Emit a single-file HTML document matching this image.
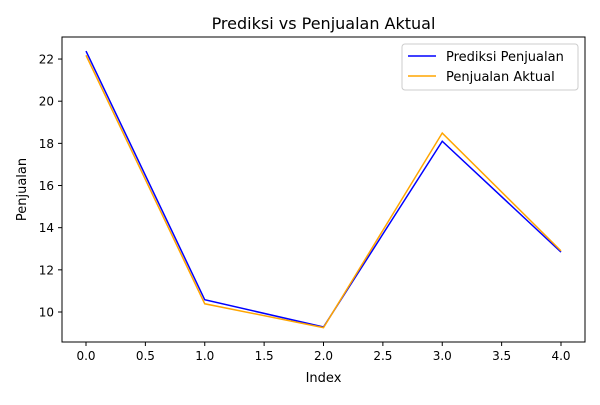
<!DOCTYPE html>
<html><head><meta charset="utf-8"><style>
body{margin:0;background:#fff;font-family:"Liberation Sans","DejaVu Sans",sans-serif;}
svg text{font-family:"DejaVu Sans","Liberation Sans",sans-serif;}
</style></head><body>
<svg id="chart" width="600" height="400" xmlns="http://www.w3.org/2000/svg">
<rect width="600" height="400" fill="#fff"/>
<text x="323.5" y="29" font-size="16" text-anchor="middle" fill="#000">Prediksi vs Penjualan Aktual</text>
<g id="axes"></g>
<g id="series"></g>
<rect x="62" y="37" width="523" height="305" fill="none" stroke="#000" stroke-width="1"/>
<text x="323.5" y="382" font-size="13" text-anchor="middle">Index</text>
<text transform="translate(26,189.5) rotate(-90)" font-size="13" text-anchor="middle">Penjualan</text>
<g>
<rect x="402" y="44" width="176" height="46" fill="#fff" stroke="#ccc" rx="3"/>
<line x1="408" y1="56" x2="436" y2="56" stroke="blue" stroke-width="1.5"/>
<text x="446" y="61" font-size="13">Prediksi Penjualan</text>
<line x1="408" y1="76" x2="436" y2="76" stroke="orange" stroke-width="1.5"/>
<text x="446" y="81" font-size="13">Penjualan Aktual</text>
</g>
</svg>
<script>
const indices=[0,1,2,3,4];
const prediksi=[22.38,10.58,9.29,18.1,12.84];
const aktual=[22.18,10.39,9.26,18.49,12.9];
const xTicks=[0,0.5,1,1.5,2,2.5,3,3.5,4];
const yTicks=[10,12,14,16,18,20,22];
const X=v=>86+v*118.75;
const Y=v=>312-(v-10)*21.08;
const ns="http://www.w3.org/2000/svg";
const axes=document.getElementById('axes'),ser=document.getElementById('series');
function mk(t,a,p){const e=document.createElementNS(ns,t);for(const k in a)e.setAttribute(k,a[k]);p.appendChild(e);return e;}
xTicks.forEach(v=>{
 const l=mk('line',{x1:X(v),x2:X(v),y1:342,y2:346,stroke:'#000'},axes);
 
 
 const t=mk('text',{x:X(v),y:360,'font-size':12,'text-anchor':'middle'},axes);t.textContent=v.toFixed(1);
 
 
});
yTicks.forEach(v=>{
 const l=mk('line',{x1:58,x2:62,y1:Y(v),y2:Y(v),stroke:'#000'},axes);
 
 
 const t=mk('text',{x:54,y:Y(v)+4.5,'font-size':12,'text-anchor':'end'},axes);t.textContent=v;
 
 
});
function line(vals,c,name){
 const p=mk('polyline',{points:vals.map((v,i)=>X(indices[i])+','+Y(v)).join(' '),fill:'none',stroke:c,'stroke-width':1.5},ser);
 
 
}
line(prediksi,'blue','prediksi-line');
line(aktual,'orange','aktual-line');
</script>
</body></html>
